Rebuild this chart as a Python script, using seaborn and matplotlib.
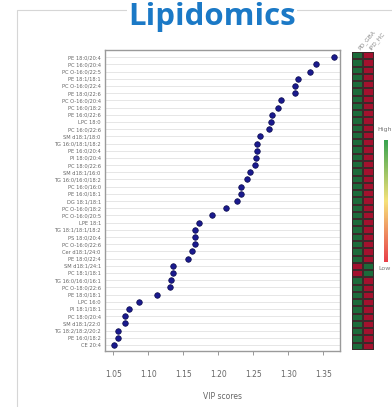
import numpy as np
import pandas as pd
import matplotlib
matplotlib.use("Agg")
import matplotlib.pyplot as plt
from matplotlib.colors import ListedColormap, LinearSegmentedColormap
from matplotlib.patches import Rectangle
import seaborn as sns

lipids = [
    "PE 18:0/20:4", "PC 16:0/20:4", "PC O-16:0/22:5", "PE 18:1/18:1",
    "PC O-16:0/22:4", "PE 18:0/22:6", "PC O-16:0/20:4", "PC 16:0/18:2",
    "PE 16:0/22:6", "LPC 18:0", "PC 16:0/22:6", "SM d18:1/18:0",
    "TG 16:0/18:1/18:2", "PE 16:0/20:4", "PI 18:0/20:4", "PC 18:0/22:6",
    "SM d18:1/16:0", "TG 16:0/16:0/18:2", "PC 16:0/16:0", "PE 16:0/18:1",
    "DG 18:1/18:1", "PC O-16:0/18:2", "PC O-16:0/20:5", "LPE 18:1",
    "TG 18:1/18:1/18:2", "PS 18:0/20:4", "PC O-16:0/22:6", "Cer d18:1/24:0",
    "PE 18:0/22:4", "SM d18:1/24:1", "PC 18:1/18:1", "TG 16:0/16:0/16:1",
    "PC O-18:0/22:6", "PE 18:0/18:1", "LPC 16:0", "PI 18:1/18:1",
    "PC 18:0/20:4", "SM d18:1/22:0", "TG 18:2/18:2/20:2", "PE 16:0/18:2",
    "CE 20:4",
]
vip = [
    1.366, 1.340, 1.331, 1.314, 1.310, 1.309, 1.289, 1.286, 1.277, 1.275,
    1.272, 1.259, 1.255, 1.255, 1.254, 1.253, 1.245, 1.241, 1.233, 1.232,
    1.227, 1.211, 1.191, 1.172, 1.167, 1.167, 1.166, 1.162, 1.156, 1.135,
    1.135, 1.132, 1.131, 1.113, 1.087, 1.073, 1.067, 1.067, 1.057, 1.057,
    1.051,
]
groups = ["PD_GBA", "iPD_HC"]
# 1 = high (red), 0 = low (green)
group1 = [0] * 29 + [1, 1] + [0] * 10
group2 = [1] * 29 + [0, 0] + [1] * 10
x_ticks = [1.05, 1.10, 1.15, 1.20, 1.25, 1.30, 1.35]

df = pd.DataFrame({"lipid": lipids, "vip": vip})
heat = pd.DataFrame({groups[0]: group1, groups[1]: group2}, index=lipids)

sns.set_theme(style="white")
plt.rcParams["font.family"] = ["DejaVu Sans"]

W, H = 392, 407
fig = plt.figure(figsize=(W / 100, H / 100), dpi=100)

def box(x0, y0, x1, y1):
    return [x0 / W, 1 - y1 / H, (x1 - x0) / W, (y1 - y0) / H]

# outer frame
fig.patches.append(Rectangle((17 / W, -0.1), 1.2, 1 - 10 / H + 0.1,
                             transform=fig.transFigure, fill=False,
                             edgecolor="#d6d6d6", lw=0.8, zorder=0))

ax = fig.add_axes(box(105, 50, 340, 351))
sns.scatterplot(data=df, x="vip", y="lipid", ax=ax, color="#1a1a8e",
                edgecolor="#0a0a4a", linewidth=0.5, s=16, zorder=3)
ax.set_ylim(len(lipids) - 1 + 0.85, -1.0)
ax.set_xlim(1.0381, 1.3739)
ax.set_xticks(x_ticks)
ax.set_xticklabels([f"{t:.2f}" for t in x_ticks], fontsize=5.5, color="#666666")
ax.tick_params(axis="x", length=3, width=0.6, color="#888888", pad=11, bottom=True)
ax.tick_params(axis="y", length=0, labelsize=3.7, labelcolor="#666666", pad=3)
ax.set_xlabel("VIP scores", fontsize=5.5, color="#666666", labelpad=9)
ax.set_ylabel("")
ax.grid(axis="y", color="#e2e2e2", lw=0.6)
ax.grid(axis="x", visible=False)
for sp in ax.spines.values():
    sp.set_color("#9a9a9a")
    sp.set_linewidth(1.0)

hax = fig.add_axes(box(351.5, 52, 374, 350))
cmap = ListedColormap(["#1c6b3a", "#a3112e"])
sns.heatmap(heat, ax=hax, cmap=cmap, cbar=False, linewidths=0.35,
            linecolor="#3a2a2a", vmin=0, vmax=1, xticklabels=True,
            yticklabels=False)
hax.set_yticks([])
hax.set_ylabel("")
hax.xaxis.tick_top()
hax.set_xticks([0.5, 1.5])
hax.set_xticklabels(groups, rotation=50, ha="left", fontsize=4.2,
                    color="#888888")
hax.tick_params(axis="x", length=0, pad=1)

# High/Low colour key
kax = fig.add_axes(box(384, 140, 388, 262))
grad = np.linspace(1, 0, 100).reshape(-1, 1)
kcmap = LinearSegmentedColormap.from_list("k", ["#e8404a", "#f6e27a", "#3aa350"])
kax.imshow(grad, aspect="auto", cmap=kcmap)
kax.set_axis_off()
fig.text(377 / W, 1 - 130 / H, "High", fontsize=4.5, color="#777777", va="center")
fig.text(378 / W, 1 - 268 / H, "Low", fontsize=4.5, color="#777777", va="center")

fig.text(212 / W, 1 - 25 / H, "Lipidomics", fontsize=22.5, fontweight="bold",
         family="Open Sans", color="#1b79c6", ha="center", va="baseline",
         bbox=dict(facecolor="white", edgecolor="none", pad=1))

fig.savefig("out.png", dpi=100, facecolor="white")
